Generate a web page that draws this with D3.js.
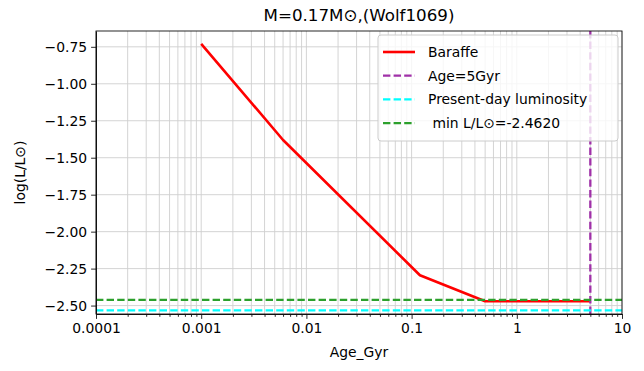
<!DOCTYPE html>
<html>
<head>
<meta charset="utf-8">
<script src="https://cdn.jsdelivr.net/npm/d3@7"></script>
<style>
body { margin: 0; background: #fff; }
text { font-family: "DejaVu Sans", sans-serif; fill: #000; }
</style>
</head>
<body>
<script>
// Baraffe track for M=0.17 Msun
var ageGyr = [0.001, 0.006, 0.12, 0.5, 5];
var logL = [-0.73, -1.38, -2.295, -2.471, -2.471];

var ageNow = 5;          // Age=5Gyr
var presentL = -2.533;   // present-day luminosity
var minL = -2.462;       // min L/Lsun

var xTicks = [0.0001, 0.001, 0.01, 0.1, 1, 10];
var xTickLabels = ["0.0001", "0.001", "0.01", "0.1", "1", "10"];
var yTicks = [-0.75, -1.00, -1.25, -1.50, -1.75, -2.00, -2.25, -2.50];

var legendLabels = ["Baraffe", "Age=5Gyr", "Present-day luminosity", " min L/L\u2299=-2.4620"];
var colors = ["#ff0000", "#a030a8", "#00ffff", "#2ca02c"];

var W = 644, H = 371;
var pLeft = 96, pRight = 622, pTop = 31, pBottom = 314;

var svg = d3.select("body").append("svg")
            .attr("width", W)
            .attr("height", H);

var x = d3.scaleLog().domain([0.0001, 10]).range([pLeft, pRight]);
var y = d3.scaleLinear().domain([-2.557, -0.643]).range([pBottom, pTop]);

// minor ticks for log axis
var minor = [];
for (var e = -4; e < 1; e++) {
    for (var k = 2; k < 10; k++) minor.push(k * Math.pow(10, e));
}

//grid lines
var grid = svg.append("g");
grid.selectAll(".gx").data(minor.concat(xTicks)).enter().append("line")
    .attr("x1", d => x(d)).attr("x2", d => x(d))
    .attr("y1", pTop).attr("y2", pBottom)
    .attr("stroke", "#cfcfcf").attr("stroke-width", 0.9);
grid.selectAll(".gy").data(yTicks).enter().append("line")
    .attr("x1", pLeft).attr("x2", pRight)
    .attr("y1", d => y(d)).attr("y2", d => y(d))
    .attr("stroke", "#cfcfcf").attr("stroke-width", 0.9);

svg.append("clipPath").attr("id", "clip")
   .append("rect").attr("x", pLeft).attr("y", pTop)
   .attr("width", pRight - pLeft).attr("height", pBottom - pTop);

var plot = svg.append("g").attr("clip-path", "url(#clip)");

// Baraffe track
var line = d3.line().x((d, i) => x(ageGyr[i])).y(d => y(d));
plot.append("path").datum(logL)
    .attr("d", line)
    .attr("fill", "none")
    .attr("stroke", colors[0])
    .attr("stroke-width", 2.6)
    .attr("stroke-linejoin", "round");

// vertical age line
plot.append("line")
    .attr("x1", x(ageNow)).attr("x2", x(ageNow))
    .attr("y1", pBottom).attr("y2", pTop)
    .attr("stroke", colors[1]).attr("stroke-width", 2.3)
    .attr("stroke-dasharray", "7.4,3.2");

// present-day luminosity
plot.append("line")
    .attr("x1", pLeft).attr("x2", pRight)
    .attr("y1", y(presentL)).attr("y2", y(presentL))
    .attr("stroke", colors[2]).attr("stroke-width", 2.3)
    .attr("stroke-dasharray", "7.4,3.2");

// min luminosity
plot.append("line")
    .attr("x1", pLeft).attr("x2", pRight)
    .attr("y1", y(minL)).attr("y2", y(minL))
    .attr("stroke", colors[3]).attr("stroke-width", 2.3)
    .attr("stroke-dasharray", "7.4,3.2");

// axes
var xAxis = d3.axisBottom(x).tickValues(xTicks)
              .tickFormat((d, i) => xTickLabels[i])
              .tickSizeInner(4.9).tickSizeOuter(0).tickPadding(4);
var gx = svg.append("g").attr("transform", "translate(0," + pBottom + ")").call(xAxis);
gx.selectAll("text").attr("font-size", "13.9px").attr("font-family", "DejaVu Sans");

var xMinor = d3.axisBottom(x).tickValues(minor).tickFormat("")
               .tickSizeInner(2.8).tickSizeOuter(0);
svg.append("g").attr("transform", "translate(0," + pBottom + ")").call(xMinor)
   .select(".domain").remove();

var yAxis = d3.axisLeft(y).tickValues(yTicks)
              .tickFormat(d => d3.format(".2f")(d).replace("-", "\u2212"))
              .tickSizeInner(4.9).tickSizeOuter(0).tickPadding(4);
var gy = svg.append("g").attr("transform", "translate(" + pLeft + ",0)").call(yAxis);
gy.selectAll("text").attr("font-size", "13.9px").attr("font-family", "DejaVu Sans");

svg.selectAll(".domain").attr("stroke", "#111");
svg.selectAll(".tick line").attr("stroke", "#111").attr("stroke-width", 0.9);

// frame
svg.append("rect").attr("x", pLeft).attr("y", pTop)
   .attr("width", pRight - pLeft).attr("height", pBottom - pTop)
   .attr("fill", "none").attr("stroke", "#111").attr("stroke-width", 0.9);

// legend
var lg = svg.append("g").attr("transform", "translate(378,35)");
lg.append("rect").attr("width", 240).attr("height", 106)
  .attr("rx", 3).attr("ry", 3)
  .attr("fill", "#fff").attr("fill-opacity", 0.8)
  .attr("stroke", "#cccccc").attr("stroke-width", 1);
legendLabels.forEach(function (lab, i) {
    var yy = 17 + i * 23.7;
    lg.append("line").attr("x1", 5).attr("x2", 37)
      .attr("y1", yy).attr("y2", yy)
      .attr("stroke", colors[i]).attr("stroke-width", i === 0 ? 2.6 : 2.3)
      .attr("stroke-dasharray", i === 0 ? null : "7.4,3.2");
    lg.append("text").attr("x", 50).attr("y", yy + 5)
      .attr("font-size", "13.9px").attr("xml:space", "preserve")
      .text(lab);
});

// title and labels
svg.append("text").attr("x", (pLeft + pRight) / 2).attr("y", 21)
   .attr("text-anchor", "middle").attr("font-size", "16.7px")
   .text("M=0.17M\u2299,(Wolf1069)");

svg.append("text").attr("x", (pLeft + pRight) / 2).attr("y", 357)
   .attr("text-anchor", "middle").attr("font-size", "13.9px")
   .text("Age_Gyr");

svg.append("text").attr("transform", "translate(25," + ((pTop + pBottom) / 2) + ") rotate(-90)")
   .attr("text-anchor", "middle").attr("font-size", "13.9px")
   .text("log(L/L\u2299)");
</script>
</body>
</html>
